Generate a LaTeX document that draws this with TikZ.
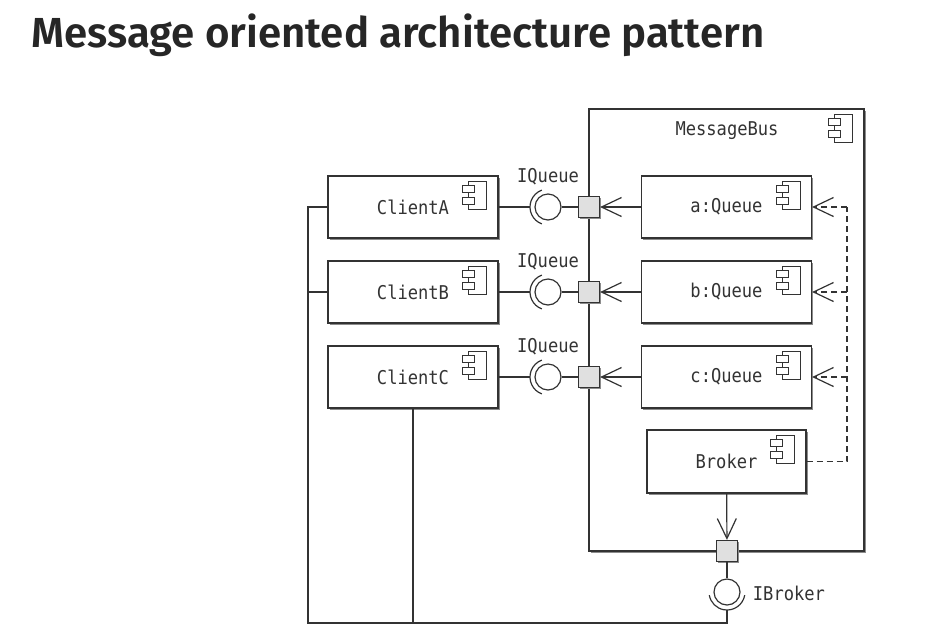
\documentclass[tikz,border=0pt]{standalone}
\usepackage{fontspec}
\usepackage{tikz}
\usetikzlibrary{arrows.meta,shadows}
\newfontfamily\titlefont{Fira Sans}[BoldFont={Fira Sans SemiBold}]
\newfontfamily\umlfont[FakeStretch=0.9]{DejaVu Sans Mono}
\definecolor{linegray}{HTML}{333333}
\definecolor{portgray}{HTML}{E0E0E0}
\definecolor{titlegray}{HTML}{262626}

% small component symbol in the upper right corner of a box
\newcommand{\compicon}[1]{%
  \draw[fill=white] (#1.north east) ++(-30,6) rectangle ++(18,28);
  \draw[fill=white] (#1.north east) ++(-36,10) rectangle ++(12,7);
  \draw[fill=white] (#1.north east) ++(-36,22) rectangle ++(12,7);
}

\begin{document}
\begin{tikzpicture}[x=1pt,y=-1pt,>={Straight Barb[length=20pt,width=19pt]},
                    line width=1.2pt,color=linegray,
                    shdw/.style={drop shadow={shadow xshift=1.5pt,shadow yshift=-1.5pt,fill=black!45,opacity=1}},
                    uml/.style={font=\umlfont\fontsize{19}{19}\selectfont},
                    comp/.style={draw,fill=white,uml,shdw,minimum width=170,minimum height=62},
                    port/.style={draw,fill=portgray,shdw,minimum size=21,inner sep=0},
                    socket/.style={draw,fill=white,circle,minimum size=26,inner sep=0}]
  \useasboundingbox (0,0) rectangle (928,641);

  \node[anchor=base west,inner sep=0,text=titlegray,
        font=\titlefont\bfseries\fontsize{42}{42}\selectfont] (title) at (31,47)
        {Message oriented architecture pattern};

  % the bus and its parts
  \node[draw,fill=white,shdw,minimum width=275,minimum height=442] (bus) at (726.5,330) {};
  \node[uml] (busname) at (727,131) {MessageBus};
  \compicon{bus}

  \node[comp] (aQueue) at (726.5,207) {a:Queue};
  \node[comp] (bQueue) at (726.5,292) {b:Queue};
  \node[comp] (cQueue) at (726.5,377) {c:Queue};
  \node[comp,minimum width=159,minimum height=63] (broker) at (726.5,461.5) {Broker};
  \compicon{aQueue}
  \compicon{bQueue}
  \compicon{cQueue}
  \compicon{broker}

  % clients
  \node[comp] (clientA) at (413,207) {ClientA};
  \node[comp] (clientB) at (413,292) {ClientB};
  \node[comp] (clientC) at (413,377) {ClientC};
  \compicon{clientA}
  \compicon{clientB}
  \compicon{clientC}

  % ports on the bus border
  \node[port] (pA) at (589,207) {};
  \node[port] (pB) at (589,292) {};
  \node[port] (pC) at (589,377) {};
  \node[port] (pBroker) at (727,551) {};

  % required interfaces
  \node[socket] (sA) at (548,207) {};
  \node[socket] (sB) at (548,292) {};
  \node[socket] (sC) at (548,377) {};
  \node[socket] (sBroker) at (727,592) {};
  \foreach \s in {sA,sB,sC}
    \draw (\s.center) ++(110:18) arc[start angle=110,end angle=250,radius=18];
  \draw (sBroker.center) ++(10:18) arc[start angle=10,end angle=170,radius=18];

  \node[uml] (lblA) at (548,177) {IQueue};
  \node[uml] (lblB) at (548,262) {IQueue};
  \node[uml] (lblC) at (548,347) {IQueue};
  \node[uml,anchor=west] (lblBroker) at (749,593) {IBroker};

  \draw (clientA.east) -- ([xshift=-18]sA.center) (sA) -- (pA);
  \draw (clientB.east) -- ([xshift=-18]sB.center) (sB) -- (pB);
  \draw (clientC.east) -- ([xshift=-18]sC.center) (sC) -- (pC);

  \path (aQueue) edge[->] (pA)
        (bQueue) edge[->] (pB)
        (cQueue) edge[->] (pC)
        (broker) edge[->] (pBroker);
  \draw (pBroker) -- (sBroker);

  % broker signals the queues
  \coordinate (trunk) at (847,207);
  \draw[dash pattern=on 6pt off 4pt] (broker.east) -| (trunk);
  \foreach \q in {aQueue,bQueue,cQueue}
    \draw[dash pattern=on 6pt off 4pt,->] (\q.east -| trunk) -- (\q.east);

  % clients wired to the broker interface
  \coordinate (bot) at (308,623);
  \draw (clientA.west) -| (bot) -| ([yshift=-18]sBroker.center);
  \draw (clientB.west) -- (clientB.west -| bot);
  \draw (clientC.south) -- (clientC.south |- bot);
\end{tikzpicture}
\end{document}
